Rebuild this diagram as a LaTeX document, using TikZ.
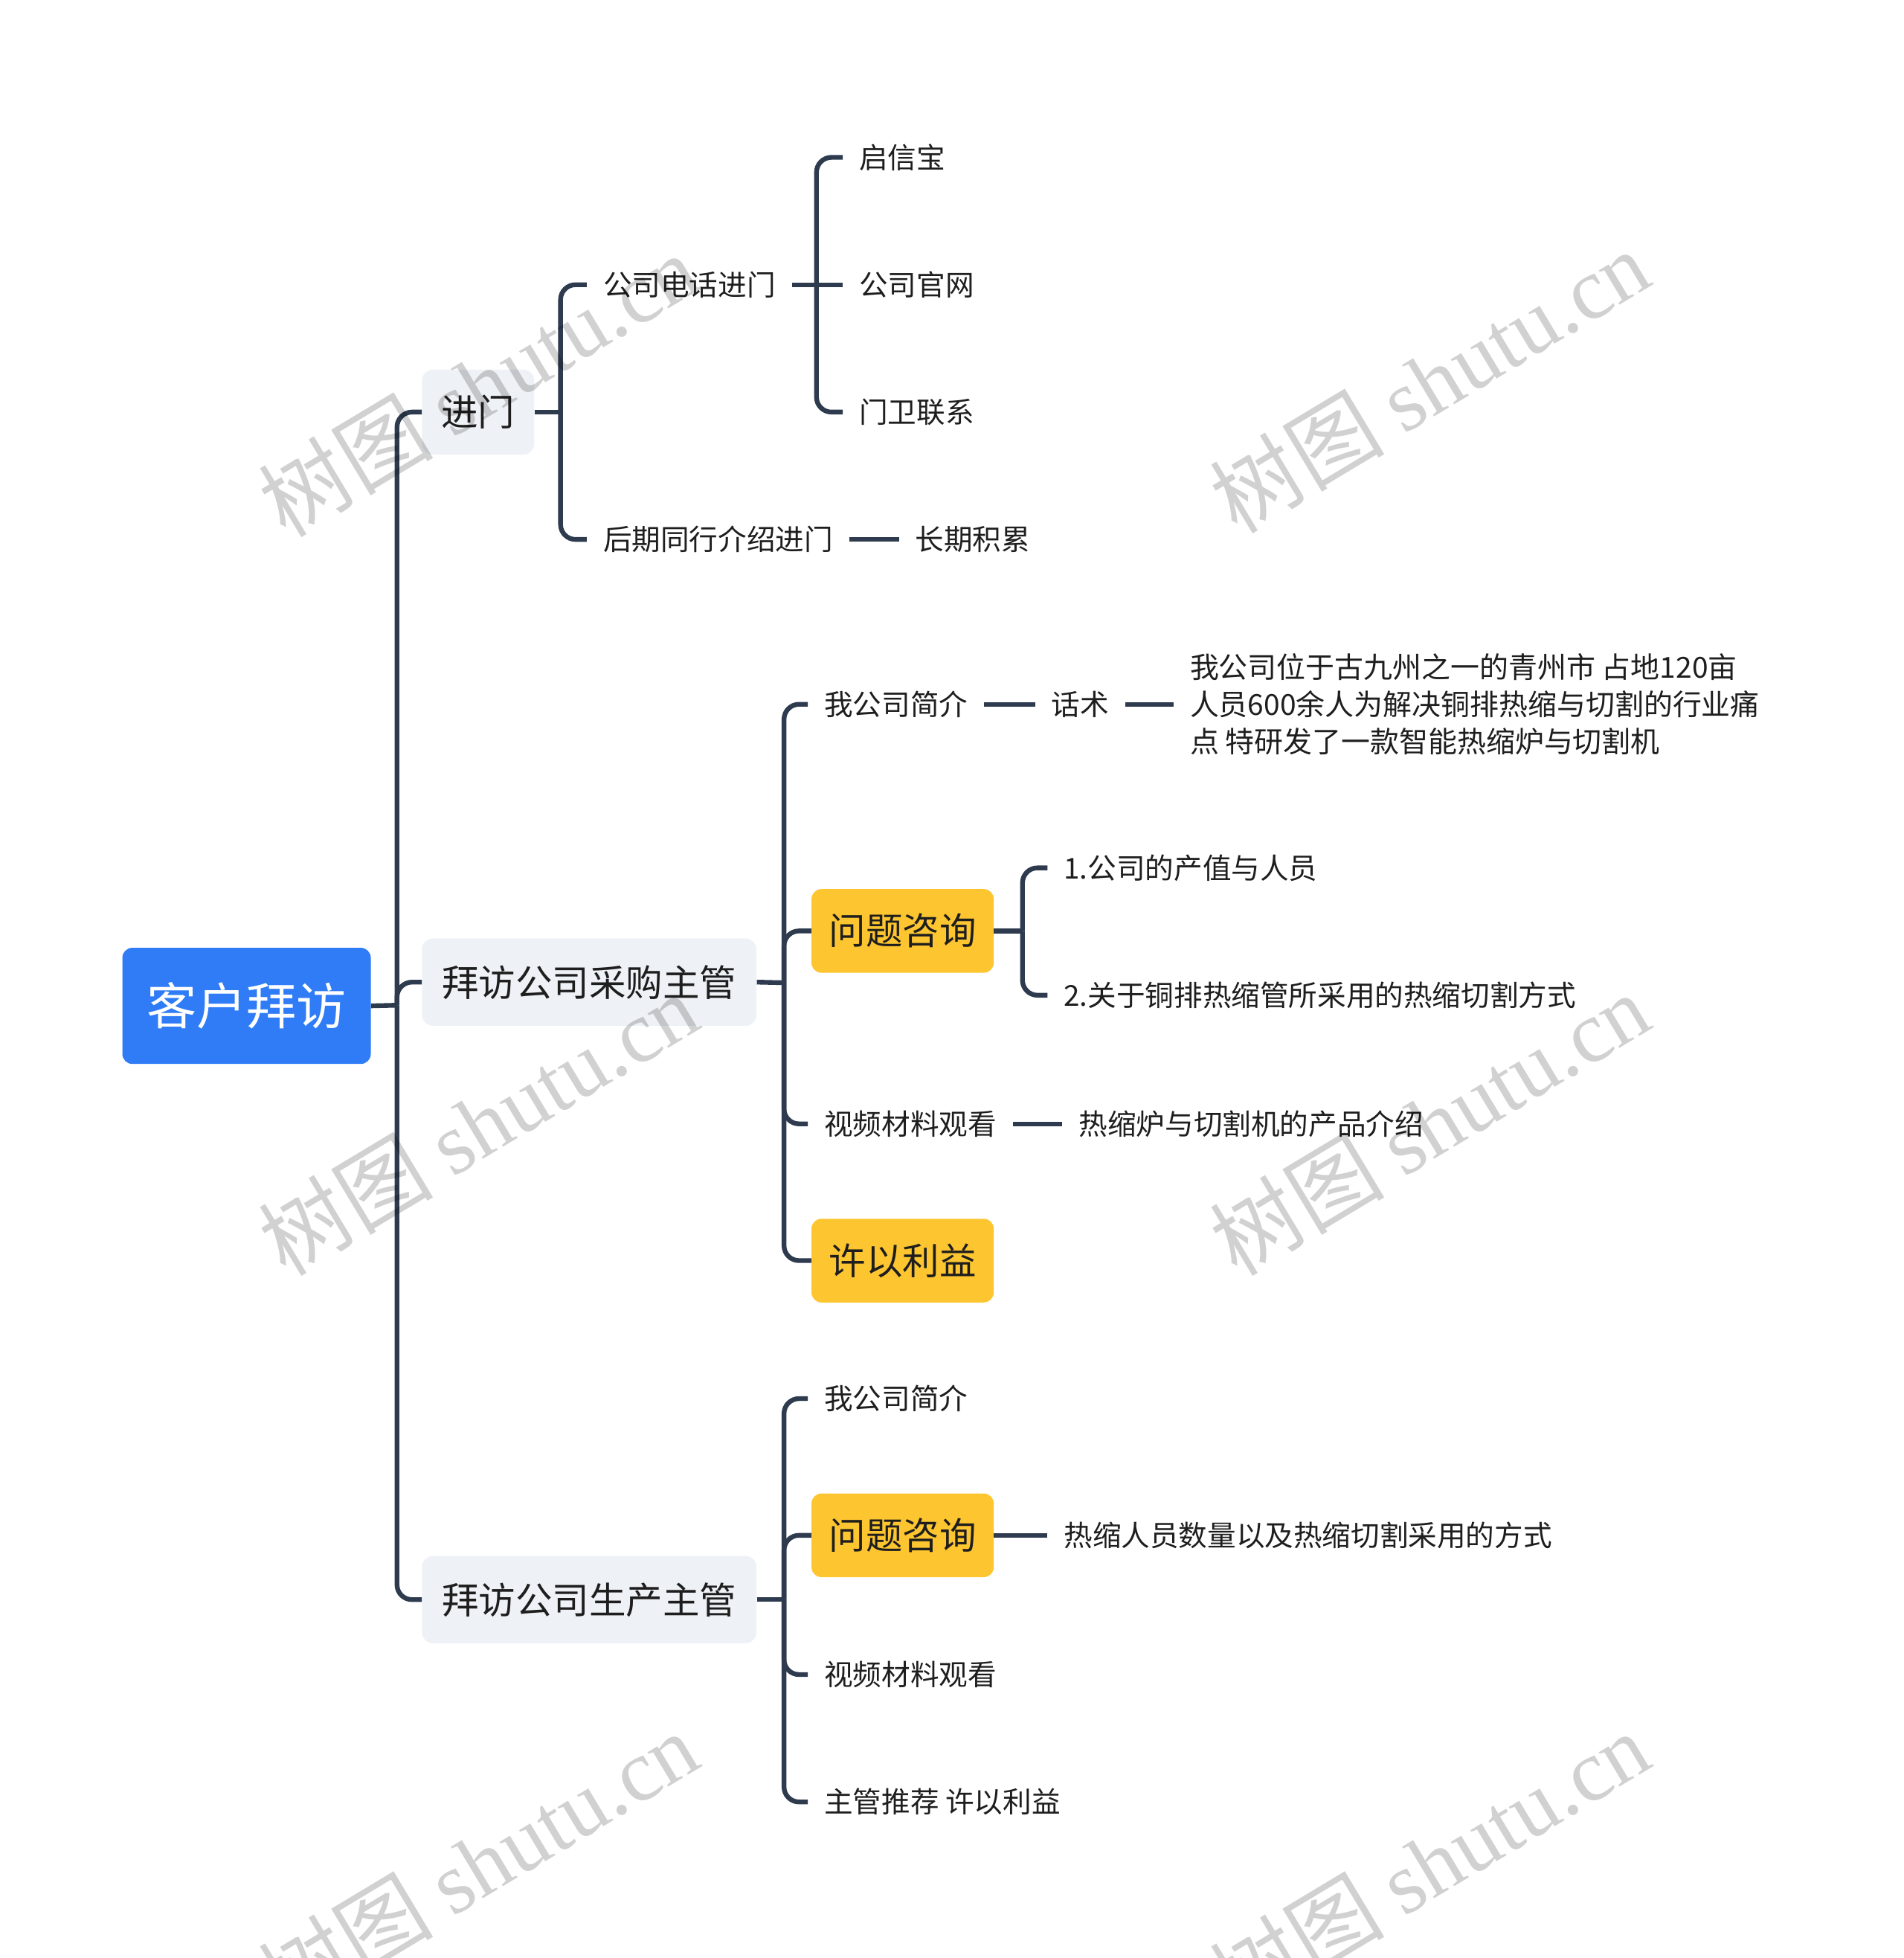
\documentclass[tikz,border=0pt]{standalone}
\usepackage{fontspec}
\setmainfont{Noto Sans CJK SC}
\newfontfamily\wmlatin{Liberation Serif}
\newfontfamily\wmcjk{Noto Sans CJK SC}
\definecolor{linec}{HTML}{2E3B4E}
\definecolor{rootblue}{HTML}{2F7CF6}
\definecolor{graybox}{HTML}{EEF1F5}
\definecolor{yellowbox}{HTML}{FDC52F}
\definecolor{txt}{HTML}{1E1E1E}
\begin{document}
\begin{tikzpicture}[x=1pt,y=-1pt,
  conn/.style={draw=linec, line width=3.8pt, rounded corners=12pt},
  plain/.style={anchor=west, inner xsep=13pt, inner ysep=2pt, text=txt, font=\fontsize{23}{28}\selectfont},
  para/.style={anchor=west, inner xsep=13pt, inner ysep=2pt, text=txt, align=left, font=\fontsize{23.2}{30}\selectfont},
  rootbox/.style={fill=rootblue, rounded corners=8pt, minimum width=199pt, minimum height=93pt, inner sep=0pt, text=white, font=\fontsize{40}{48}\selectfont},
  lvlbox/.style={fill=graybox, rounded corners=9pt, minimum height=70pt, inner sep=0pt, text=txt, font=\fontsize{29.5}{35}\selectfont},
  ybox/.style={fill=yellowbox, rounded corners=8pt, minimum width=146pt, minimum height=67pt, inner sep=0pt, text=txt, font=\fontsize{29.5}{35}\selectfont},
  wm/.style={rotate=31, text=black, text opacity=0.18, font=\fontsize{70}{80}\selectfont}
]
\useasboundingbox (0,0) rectangle (1525,1568);

% root and level 1
\node[rootbox] (root) at (197.5,805.5) {客户拜访};
\node[lvlbox, minimum width=90pt, minimum height=68pt] (jm) at (383,330) {进门};
\node[lvlbox, minimum width=268pt] (cg) at (472,786.5) {拜访公司采购主管};
\node[lvlbox, minimum width=268pt] (sc) at (472,1281) {拜访公司生产主管};

\coordinate (j0) at (318,805);
\draw[conn] (root.east) -- (j0);
\draw[conn] (j0) |- (jm.west);
\draw[conn] (j0) |- (cg.west);
\draw[conn] (j0) |- (sc.west);

% 进门 branch
\node[plain] (dh) at (470,228) {公司电话进门};
\node[plain] (hq) at (470,432) {后期同行介绍进门};
\coordinate (j1) at (449,330);
\draw[conn] (jm.east) -- (j1);
\draw[conn] (j1) |- (dh.west);
\draw[conn] (j1) |- (hq.west);

\node[plain] (qxb) at (675,126) {启信宝};
\node[plain] (gw) at (675,228) {公司官网};
\node[plain] (mw) at (675,330) {门卫联系};
\coordinate (j2) at (654,228);
\draw[conn] (dh.east) -- (j2);
\draw[conn] (j2) |- (qxb.west);
\draw[conn] (j2) -- (gw.west);
\draw[conn] (j2) |- (mw.west);

\node[plain] (cq) at (720,432) {长期积累};
\draw[conn] (hq.east) -- (cq.west);

% 采购主管 branch
\node[plain] (jj1) at (647,564) {我公司简介};
\node[ybox] (wt1) at (723,745.5) {问题咨询};
\node[plain] (sp1) at (647,900) {视频材料观看};
\node[ybox] (xy) at (723,1009.5) {许以利益};
\coordinate (j3) at (628,787);
\draw[conn] (cg.east) -- (j3);
\draw[conn] (j3) |- (jj1.west);
\draw[conn] (j3) |- (wt1.west);
\draw[conn] (j3) |- (sp1.west);
\draw[conn] (j3) |- (xy.west);

\node[plain] (hs) at (829,564) {话术};
\draw[conn] (jj1.east) -- (hs.west);
\node[para] (pr) at (940,564) {我公司位于古九州之一的青州市 占地120亩\\人员600余人为解决铜排热缩与切割的行业痛\\点 特研发了一款智能热缩炉与切割机};
\draw[conn] (hs.east) -- (pr.west);

\node[plain] (p1) at (839,695) {1.公司的产值与人员};
\node[plain] (p2) at (839,797) {2.关于铜排热缩管所采用的热缩切割方式};
\coordinate (j4) at (819,745.5);
\draw[conn] (wt1.east) -- (j4);
\draw[conn] (j4) |- (p1.west);
\draw[conn] (j4) |- (p2.west);

\node[plain] (cp) at (851,900) {热缩炉与切割机的产品介绍};
\draw[conn] (sp1.east) -- (cp.west);

% 生产主管 branch
\node[plain] (jj2) at (647,1120) {我公司简介};
\node[ybox] (wt2) at (723,1229.5) {问题咨询};
\node[plain] (sp2) at (647,1341) {视频材料观看};
\node[plain] (zg) at (647,1443) {主管推荐 许以利益};
\coordinate (j5) at (628,1281);
\draw[conn] (sc.east) -- (j5);
\draw[conn] (j5) |- (jj2.west);
\draw[conn] (j5) |- (wt2.west);
\draw[conn] (j5) |- (sp2.west);
\draw[conn] (j5) |- (zg.west);

\node[plain] (rs) at (839,1229.5) {热缩人员数量以及热缩切割采用的方式};
\draw[conn] (wt2.east) -- (rs.west);

% watermarks
\node[wm] (w1) at (383,308) {{\wmcjk 树图} {\wmlatin shutu.cn}};
\node[wm] (w2) at (1145,305) {{\wmcjk 树图} {\wmlatin shutu.cn}};
\node[wm] (w3) at (383,900) {{\wmcjk 树图} {\wmlatin shutu.cn}};
\node[wm] (w4) at (1145,900) {{\wmcjk 树图} {\wmlatin shutu.cn}};
\node[wm] (w5) at (383,1492) {{\wmcjk 树图} {\wmlatin shutu.cn}};
\node[wm] (w6) at (1145,1492) {{\wmcjk 树图} {\wmlatin shutu.cn}};
\end{tikzpicture}
\end{document}
